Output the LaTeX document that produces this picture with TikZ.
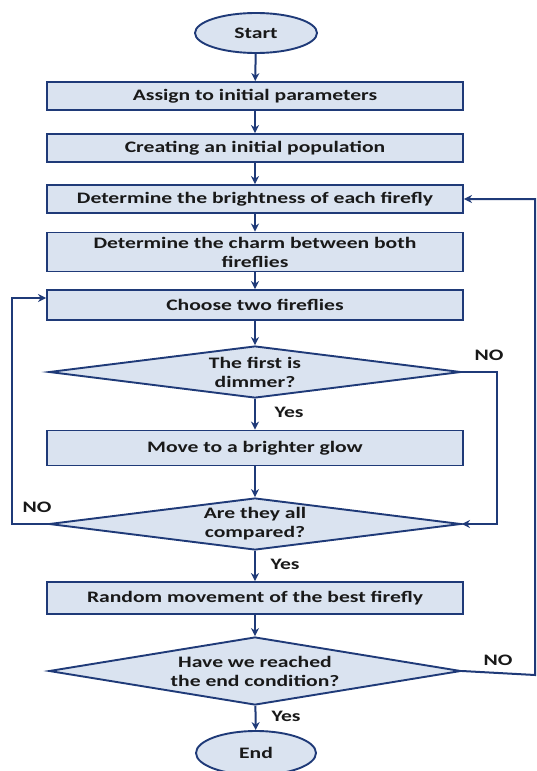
\documentclass[tikz,border=0pt]{standalone}
\usepackage{fontspec}
\setmainfont{Carlito}
\newfontfamily\wide[FakeStretch=1.35]{Carlito}
\usetikzlibrary{shapes.geometric,arrows.meta}
\definecolor{fillb}{HTML}{DAE3F0}
\definecolor{navy}{HTML}{1F3A78}
\tikzset{
  base/.style={draw=navy, fill=fillb, line width=1.9pt, font=\wide\bfseries\fontsize{16}{19}\selectfont, text=black!90, align=center, inner sep=0pt},
  procbox/.style={base, rectangle, minimum width=416pt},
  term/.style={base, ellipse},
  decide/.style={base, diamond, aspect=8, minimum width=412pt},
  conn/.style={draw=navy, line width=2pt, -{Stealth[length=8pt,width=8pt]}},
  lbl/.style={font=\wide\bfseries\fontsize{16}{19}\selectfont, text=black!90, inner sep=0pt}
}
\begin{document}
\begin{tikzpicture}[x=1pt,y=-1pt]
\useasboundingbox (0,0) rectangle (536,771);
\node[term, minimum width=122pt, minimum height=40pt] (start) at (256,33) {Start};
\node[procbox, minimum height=28pt] (b1) at (255,96) {Assign to initial parameters};
\node[procbox, minimum height=28pt] (b2) at (255,148) {Creating an initial population};
\node[procbox, minimum height=28pt] (b3) at (255,199) {Determine the brightness of each firefly};
\node[procbox, minimum height=39pt] (b4) at (255,252) {Determine the charm between both\\fireflies};
\node[procbox, minimum height=30pt] (b5) at (255,305) {Choose two fireflies};
\node[decide, minimum height=52pt] (d1) at (255,372) {The first is\\dimmer?};
\node[procbox, minimum height=35pt] (b6) at (255,448) {Move to a brighter glow};
\node[decide, minimum height=52pt] (d2) at (255,524) {Are they all\\compared?};
\node[procbox, minimum height=32pt] (b7) at (255,598) {Random movement of the best firefly};
\node[decide, minimum height=68pt] (d3) at (255,671) {Have we reached\\the end condition?};
\node[term, minimum width=120pt, minimum height=44pt] (end) at (256,753) {End};

\draw[conn] (start) -- (b1);
\draw[conn] (b1) -- (b2);
\draw[conn] (b2) -- (b3);
\draw[conn] (b3) -- (b4);
\draw[conn] (b4) -- (b5);
\draw[conn] (b5) -- (d1);
\draw[conn] (d1) -- (b6);
\draw[conn] (b6) -- (d2);
\draw[conn] (d2) -- (b7);
\draw[conn] (b7) -- (d3);
\draw[conn] (d3) -- (end);

\coordinate (l1) at (12,524);
\coordinate (l2) at (12,298);
\draw[conn] (d2.west) -- (l1) -- (l2) -- (b5.west |- l2);

\coordinate (r1) at (497,372);
\coordinate (r2) at (497,524);
\draw[conn] (d1.east) -- (r1) -- (r2) -- (d2.east);

\coordinate (s1) at (535,675);
\coordinate (s2) at (535,199);
\draw[conn] (d3.east) -- (s1) -- (s2) -- (b3.east);

\node[lbl] (y1) at (289,412) {Yes};
\node[lbl] (y2) at (285,564) {Yes};
\node[lbl] (y3) at (286,716) {Yes};
\node[lbl] (n1) at (37,507) {NO};
\node[lbl] (n2) at (489,355) {NO};
\node[lbl] (n3) at (498,660) {NO};
\end{tikzpicture}
\end{document}
